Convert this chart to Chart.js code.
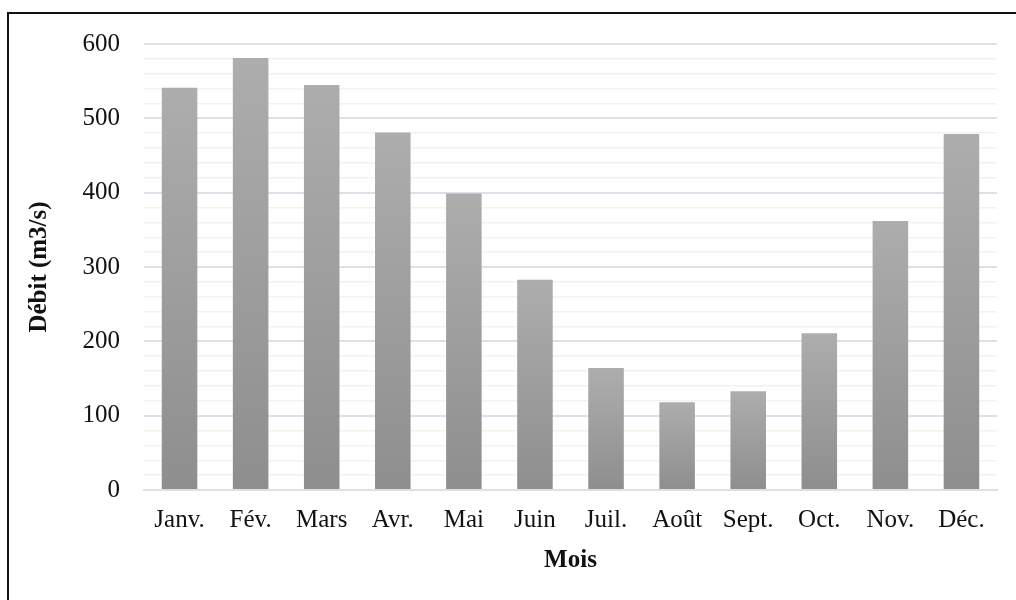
<!DOCTYPE html>
<html>
<head>
<meta charset="utf-8">
<script src="https://cdn.jsdelivr.net/npm/chart.js@4/dist/chart.umd.min.js"></script>
<style>
  html, body { margin: 0; padding: 0; background: #fff; }
  #wrap { position: relative; width: 1016px; height: 600px; overflow: hidden; }
  #frame { position: absolute; left: 7px; top: 12px; width: 1100px; height: 700px; border: 2px solid #111; box-sizing: border-box; pointer-events: none; }
</style>
</head>
<body>
<div id="wrap">
  <canvas id="myChartArea" width="1016" height="600"></canvas>
  <div id="frame"></div>
</div>
<script>
// monthly discharge
var mois = ['Janv.', 'Fév.', 'Mars', 'Avr.', 'Mai', 'Juin', 'Juil.', 'Août', 'Sept.', 'Oct.', 'Nov.', 'Déc.'];
var debit = [541, 581, 545, 481, 399, 283, 164, 118, 133, 211, 362, 479];
var yTicks = [0, 100, 200, 300, 400, 500, 600];

function barFill(context) {
    var chart = context.chart;
    var area = chart.chartArea;
    if (!area) return '#9e9e9e';
    var v = context.raw;
    var top = chart.scales.y.getPixelForValue(v);
    var g = chart.ctx.createLinearGradient(0, top, 0, area.bottom);
    g.addColorStop(0, '#adadad');
    g.addColorStop(1, '#8e8e8e');
    return g;
}

var ctx = document.getElementById('myChartArea');
var chart = new Chart(ctx, {
    type: 'bar',
    data: {
        labels: mois,
        datasets: [{
            data: debit,
            backgroundColor: barFill,
            borderWidth: 0,
            categoryPercentage: 1.0,
            barPercentage: 0.5
        }]
    },
    options: {
        responsive: false,
        animation: false,
        events: [],
        layout: { padding: { top: 44, right: 19, left: 0, bottom: 0 } },
        plugins: { legend: { display: false }, tooltip: { enabled: false } },
        scales: {
            x: {
                grid: { display: false, drawTicks: false },
                border: { display: true, color: '#dce1e9', width: 2 },
                ticks: { color: '#111', padding: 15, font: { family: 'Liberation Serif', size: 25 } },
                title: { display: true, text: 'Mois', color: '#111', padding: { top: 4, bottom: 24 }, font: { family: 'Liberation Serif', size: 25, weight: 'bold' } },
                afterFit: function (s) { s.height = 110; }
            },
            y: {
                min: 0,
                max: 600,
                ticks: {
                    stepSize: 20,
                    color: '#111',
                    padding: 24,
                    autoSkip: false,
                    font: { family: 'Liberation Serif', size: 25 },
                    callback: function (v) { return yTicks.indexOf(v) >= 0 ? v : ''; }
                },
                grid: {
                    drawTicks: false,
                    color: function (c) { return (c.tick && c.tick.value % 100 === 0) ? '#dce1e9' : '#f2f2f2'; },
                    lineWidth: function (c) { return (c.tick && c.tick.value % 100 === 0) ? 2 : 1.5; }
                },
                border: { display: false },
                title: { display: true, text: 'Débit (m3/s)', color: '#111', padding: { top: 25, bottom: 0 }, font: { family: 'Liberation Serif', size: 25, weight: 'bold' } },
                afterFit: function (s) { s.width = 144; }
            }
        }
    }
});
</script>
</body>
</html>
